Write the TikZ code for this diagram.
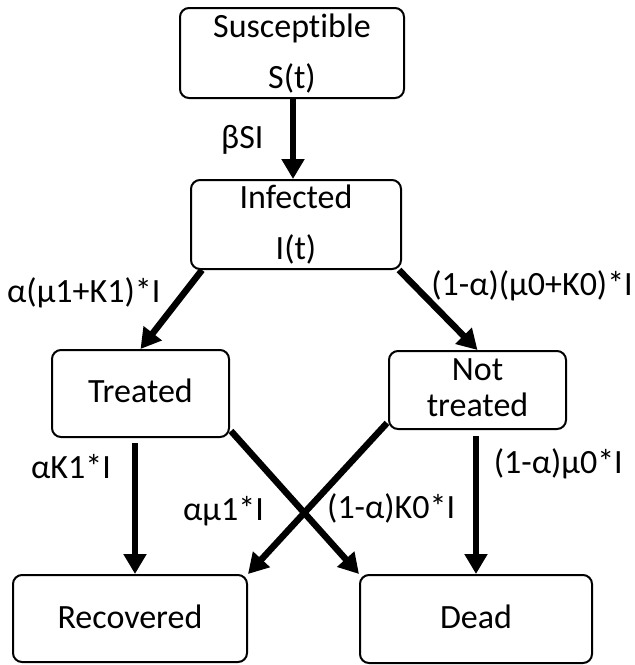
\documentclass[tikz,border=0pt]{standalone}
\usepackage{fontspec}
\setmainfont{Carlito}[RawFeature=-liga]
\usetikzlibrary{arrows.meta}
\begin{document}
\begin{tikzpicture}[x=1pt,y=-1pt,
  box/.style={draw=black,line width=2pt,rounded corners=9pt,inner sep=0pt,minimum width=#1},
  txt/.style={inner sep=0pt,anchor=base,font=\fontsize{34}{40}\selectfont},
  lbl/.style={inner sep=0pt,font=\fontsize{34}{40}\selectfont},
  arr/.style={line width=6.5pt,-{Triangle[length=20pt,width=22pt]}}]
\useasboundingbox (0,0) rectangle (635,665);
% boxes
\node[box=224pt,minimum height=90pt] (s) at (292,53) {};
\node[box=210pt,minimum height=89pt] (i) at (296,224.5) {};
\node[box=177pt,minimum height=87pt] (t) at (140.5,393.5) {};
\node[box=177pt,minimum height=78pt] (n) at (477.5,390) {};
\node[box=234pt,minimum height=87pt] (r) at (130,618.5) {};
\node[box=232pt,minimum height=88pt] (d) at (476,619) {};
% box texts
\node[txt] (s1) at (292,37) {Susceptible};
\node[txt] (s2) at (292,88) {S(t)};
\node[txt] (i1) at (296,208) {Infected};
\node[txt] (i2) at (296,259) {I(t)};
\node[txt] (t1) at (140.5,402) {Treated};
\node[txt] (n1) at (477.5,380) {Not};
\node[txt] (n2) at (477.5,416) {treated};
\node[txt] (r1) at (130,628) {Recovered};
\node[txt] (d1) at (476,628) {Dead};
% arrows
\coordinate (sa) at ([shift={(1,0)}]s.south);
\draw[arr] (sa) -- (sa |- i.north);
\draw[arr] ([shift={(12,0)}]i.south west) -- (t.north);
\draw[arr] ([shift={(-3,0)}]i.south east) -- (n.north);
\coordinate (ta) at ([shift={(-5.5,5)}]t.south);
\draw[arr] (ta) -- (ta |- r.north);
\coordinate (na) at ([shift={(-1.5,6)}]n.south);
\draw[arr] (na) -- (na |- d.north);
\draw[arr] ([shift={(1,-7)}]t.south east) -- (d.north west);
\draw[arr] ([shift={(-1,-7)}]n.south west) -- (r.north east);
% labels
\node[lbl,anchor=base west] (l1) at (221,148) {βSI};
\node[lbl,anchor=base west] (l2) at (7,302) {α(μ1+K1)*I};
\node[lbl,anchor=base east] (l3) at (633,295) {(1-α)(μ0+K0)*I};
\node[lbl,anchor=base west] (l4) at (31,478) {αK1*I};
\node[lbl,anchor=base east] (l5) at (623,473) {(1-α)μ0*I};
\node[lbl,anchor=base west] (l6) at (183,520) {αμ1*I};
\node[lbl,anchor=base west] (l7) at (327,518) {(1-α)K0*I};
\end{tikzpicture}
\end{document}
